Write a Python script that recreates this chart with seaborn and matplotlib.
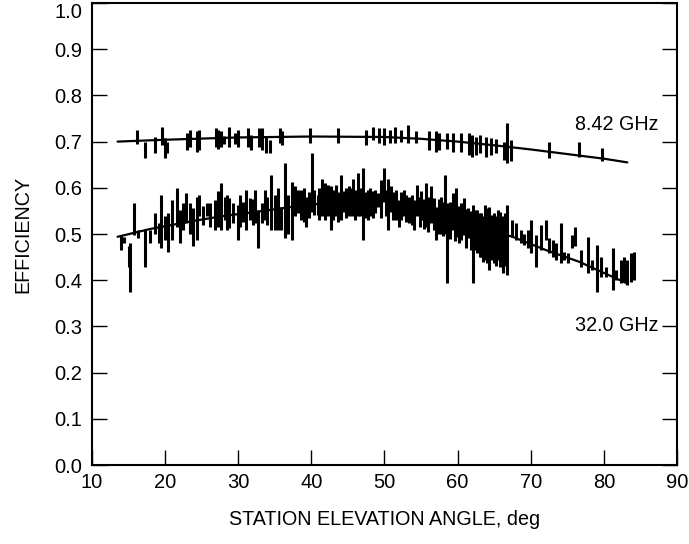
import matplotlib
matplotlib.use("Agg")
import matplotlib.pyplot as plt
import numpy as np
import pandas as pd
import seaborn as sns

# fitted efficiency curves (elevation deg, efficiency)
x_fit_elev = [13.5, 20, 30, 40, 50, 55, 60, 65, 70, 75, 80, 83.2]
x_fit_eff = [0.700, 0.704, 0.709, 0.711, 0.710, 0.706, 0.700, 0.692, 0.683, 0.673, 0.663, 0.655]

ka_fit_elev = [13.5, 18, 23.4, 28, 32.5, 37, 41.5, 45, 49.3, 53, 56, 58.4, 62, 67.5, 72.1, 76.6, 81.1, 83.2]
ka_fit_eff = [0.494, 0.511, 0.527, 0.539, 0.548, 0.558, 0.566, 0.572, 0.574, 0.567, 0.553, 0.540,
              0.521, 0.494, 0.465, 0.440, 0.408, 0.393]

# measured points as (elevation, low, high) ranges
x_bars = [
    (16.1, 0.694, 0.725), (17.2, 0.664, 0.700), (18.6, 0.675, 0.711), (19.6, 0.693, 0.732),
    (20.0, 0.664, 0.707), (20.2, 0.675, 0.700), (23.0, 0.682, 0.718), (23.4, 0.689, 0.725),
    (24.3, 0.678, 0.722), (24.7, 0.682, 0.725), (27.0, 0.689, 0.729), (27.3, 0.685, 0.725),
    (27.6, 0.689, 0.722), (28.0, 0.695, 0.712), (28.8, 0.689, 0.732), (29.6, 0.695, 0.718),
    (29.9, 0.689, 0.725), (31.3, 0.689, 0.729), (31.8, 0.682, 0.714), (32.9, 0.689, 0.729),
    (33.3, 0.682, 0.729), (33.8, 0.675, 0.711), (34.3, 0.675, 0.703), (35.7, 0.696, 0.729),
    (36.0, 0.693, 0.722), (39.8, 0.696, 0.729), (43.6, 0.696, 0.729), (47.5, 0.693, 0.725),
    (48.4, 0.703, 0.732), (49.3, 0.696, 0.729), (50.0, 0.693, 0.729), (50.7, 0.696, 0.725),
    (51.4, 0.696, 0.732), (52.3, 0.700, 0.725), (53.2, 0.696, 0.736), (54.3, 0.696, 0.722),
    (56.1, 0.682, 0.722), (57.0, 0.678, 0.722), (57.4, 0.682, 0.718), (58.5, 0.685, 0.718),
    (59.3, 0.678, 0.718), (60.5, 0.678, 0.718), (61.6, 0.671, 0.718), (62.0, 0.667, 0.714),
    (62.5, 0.671, 0.711), (63.0, 0.675, 0.714), (63.9, 0.667, 0.711), (64.6, 0.671, 0.707),
    (65.2, 0.675, 0.705), (66.4, 0.660, 0.700), (66.8, 0.653, 0.740), (67.3, 0.657, 0.703),
    (72.5, 0.664, 0.700), (76.6, 0.667, 0.700), (79.8, 0.659, 0.686),
]

ka_bars = [
    (13.9, 0.465, 0.498), (14.4, 0.480, 0.494), (15.0, 0.429, 0.473), (15.2, 0.375, 0.480),
    (15.7, 0.498, 0.567), (16.3, 0.491, 0.509), (17.2, 0.429, 0.509), (17.9, 0.480, 0.509),
    (18.6, 0.501, 0.545), (19.1, 0.480, 0.523), (19.5, 0.469, 0.584), (20.0, 0.487, 0.538),
    (20.4, 0.462, 0.545), (20.9, 0.487, 0.574), (21.6, 0.516, 0.599), (22.0, 0.480, 0.552),
    (22.5, 0.509, 0.567), (22.9, 0.523, 0.588), (23.4, 0.501, 0.567), (23.8, 0.473, 0.556),
    (24.3, 0.487, 0.581), (24.7, 0.538, 0.584), (25.2, 0.520, 0.560), (25.7, 0.538, 0.567),
    (26.1, 0.516, 0.567), (26.8, 0.509, 0.574), (27.3, 0.516, 0.592), (27.7, 0.509, 0.610),
    (28.2, 0.530, 0.581), (28.4, 0.509, 0.584), (28.8, 0.512, 0.577), (29.3, 0.523, 0.567),
    (30.0, 0.487, 0.563), (30.2, 0.516, 0.584), (30.6, 0.525, 0.570), (31.1, 0.509, 0.595),
    (31.6, 0.530, 0.577), (32.0, 0.520, 0.575), (32.3, 0.523, 0.595), (32.7, 0.469, 0.552),
    (33.2, 0.523, 0.567), (33.6, 0.530, 0.595), (34.0, 0.520, 0.580), (34.5, 0.509, 0.628),
    (35.0, 0.509, 0.584), (35.4, 0.509, 0.599), (35.9, 0.509, 0.559), (36.4, 0.491, 0.653),
    (36.8, 0.501, 0.584), (37.3, 0.487, 0.613), (37.7, 0.538, 0.603), (38.2, 0.545, 0.595),
    (38.6, 0.530, 0.595), (39.0, 0.525, 0.600), (39.3, 0.516, 0.581), (39.7, 0.535, 0.590),
    (40.1, 0.548, 0.675), (40.4, 0.541, 0.595), (40.9, 0.541, 0.584), (41.1, 0.530, 0.600),
    (41.4, 0.538, 0.620), (41.8, 0.530, 0.610), (42.0, 0.545, 0.600), (42.3, 0.538, 0.606),
    (42.7, 0.509, 0.603), (43.0, 0.530, 0.595), (43.4, 0.538, 0.606), (43.7, 0.525, 0.590),
    (44.0, 0.530, 0.628), (44.5, 0.548, 0.592), (44.8, 0.535, 0.600), (45.2, 0.538, 0.603),
    (45.5, 0.538, 0.599), (45.7, 0.545, 0.620), (46.0, 0.530, 0.595), (46.4, 0.538, 0.631),
    (46.7, 0.540, 0.600), (47.1, 0.487, 0.642), (47.4, 0.535, 0.590), (47.7, 0.530, 0.595),
    (48.0, 0.540, 0.600), (48.4, 0.534, 0.592), (48.7, 0.545, 0.595), (49.1, 0.559, 0.588),
    (49.5, 0.534, 0.617), (50.0, 0.570, 0.642), (50.2, 0.540, 0.595), (50.5, 0.509, 0.620),
    (50.9, 0.548, 0.603), (51.2, 0.530, 0.590), (51.6, 0.530, 0.595), (52.0, 0.516, 0.574),
    (52.3, 0.530, 0.590), (52.7, 0.538, 0.595), (53.0, 0.525, 0.585), (53.4, 0.523, 0.581),
    (53.7, 0.520, 0.585), (54.1, 0.509, 0.574), (54.5, 0.538, 0.606), (54.8, 0.515, 0.580),
    (55.0, 0.530, 0.592), (55.4, 0.510, 0.575), (55.7, 0.516, 0.610), (56.0, 0.505, 0.580),
    (56.4, 0.523, 0.603), (56.8, 0.509, 0.577), (57.1, 0.487, 0.559), (57.4, 0.500, 0.575),
    (57.7, 0.501, 0.581), (58.0, 0.495, 0.570), (58.3, 0.501, 0.628), (58.6, 0.393, 0.567),
    (59.0, 0.490, 0.570), (59.3, 0.509, 0.588), (59.6, 0.485, 0.565), (59.8, 0.494, 0.599),
    (60.2, 0.480, 0.560), (60.5, 0.487, 0.567), (60.9, 0.498, 0.577), (61.1, 0.470, 0.555),
    (61.4, 0.491, 0.556), (61.8, 0.465, 0.550), (62.1, 0.393, 0.563), (62.5, 0.465, 0.552),
    (62.7, 0.458, 0.552), (63.0, 0.450, 0.545), (63.2, 0.451, 0.545), (63.5, 0.440, 0.540),
    (63.7, 0.444, 0.563), (64.0, 0.437, 0.556), (64.3, 0.422, 0.559), (64.7, 0.444, 0.541),
    (65.0, 0.437, 0.545), (65.3, 0.430, 0.540), (65.5, 0.444, 0.552), (65.8, 0.429, 0.548),
    (66.2, 0.415, 0.538), (66.5, 0.430, 0.545), (66.8, 0.411, 0.563), (67.5, 0.494, 0.530),
    (68.0, 0.487, 0.523), (68.7, 0.480, 0.509), (69.1, 0.476, 0.501), (69.6, 0.469, 0.509),
    (70.0, 0.458, 0.530), (70.7, 0.429, 0.498), (71.4, 0.465, 0.519), (72.1, 0.487, 0.530),
    (72.5, 0.458, 0.491), (73.0, 0.451, 0.487), (73.4, 0.444, 0.480), (74.1, 0.437, 0.523),
    (74.6, 0.444, 0.462), (75.1, 0.437, 0.458), (75.7, 0.469, 0.498), (76.0, 0.473, 0.516),
    (76.9, 0.429, 0.465), (77.8, 0.415, 0.494), (78.4, 0.422, 0.444), (79.1, 0.375, 0.476),
    (79.6, 0.408, 0.451), (80.3, 0.408, 0.429), (81.2, 0.379, 0.469), (81.6, 0.400, 0.422),
    (82.3, 0.393, 0.444), (82.8, 0.397, 0.451), (83.2, 0.390, 0.444), (83.7, 0.397, 0.458),
    (84.1, 0.400, 0.462),
]

band_labels = ["8.42 GHz", "32.0 GHz"]
label_pos = [(81.7, 0.736), (81.7, 0.303)]
x_ticks = list(range(10, 91, 10))
y_ticks = [round(0.1 * i, 1) for i in range(11)]

sns.set_theme(style="ticks")
plt.rcParams["font.family"] = ["Liberation Sans", "DejaVu Sans"]

fig = plt.figure(figsize=(6.89, 5.44), dpi=100)
ax = fig.add_axes([0.1335, 0.1452, 0.9826 - 0.1335, 0.9945 - 0.1452])

fit_df = pd.concat([
    pd.DataFrame({"elev": x_fit_elev, "eff": x_fit_eff, "band": band_labels[0]}),
    pd.DataFrame({"elev": ka_fit_elev, "eff": ka_fit_eff, "band": band_labels[1]}),
])
sns.lineplot(data=fit_df, x="elev", y="eff", units="band", estimator=None,
             color="black", linewidth=1.6, ax=ax, legend=False)

for bars in (x_bars, ka_bars):
    bdf = pd.DataFrame(bars, columns=["elev", "lo", "hi"])
    ax.vlines(bdf["elev"], bdf["lo"], bdf["hi"], color="black", linewidth=2.2)

for text, (tx, ty) in zip(band_labels, label_pos):
    ax.text(tx, ty, text, fontsize=14.2, ha="center", va="center", color="black")

ax.set_xlim(10, 90)
ax.set_ylim(0, 1.0)
ax.set_xticks(x_ticks)
ax.set_yticks(y_ticks)
ax.set_yticklabels([f"{v:.1f}" for v in y_ticks])
ax.tick_params(axis="both", direction="in", length=11, width=1.0, color="black",
               labelsize=14.5, labelcolor="black")
ax.tick_params(axis="y", right=True, pad=7)
ax.tick_params(axis="x", pad=6)
for s in ax.spines.values():
    s.set_visible(True)
    s.set_linewidth(1.5)
    s.set_color("black")

ax.set_xlabel("STATION ELEVATION ANGLE, deg", fontsize=14.2, labelpad=13, color="black")
ax.set_ylabel("EFFICIENCY", fontsize=14.2, labelpad=16, color="black")
ax.get_yticklabels()[-1].set_verticalalignment("top")

fig.savefig("out.png", dpi=100)
